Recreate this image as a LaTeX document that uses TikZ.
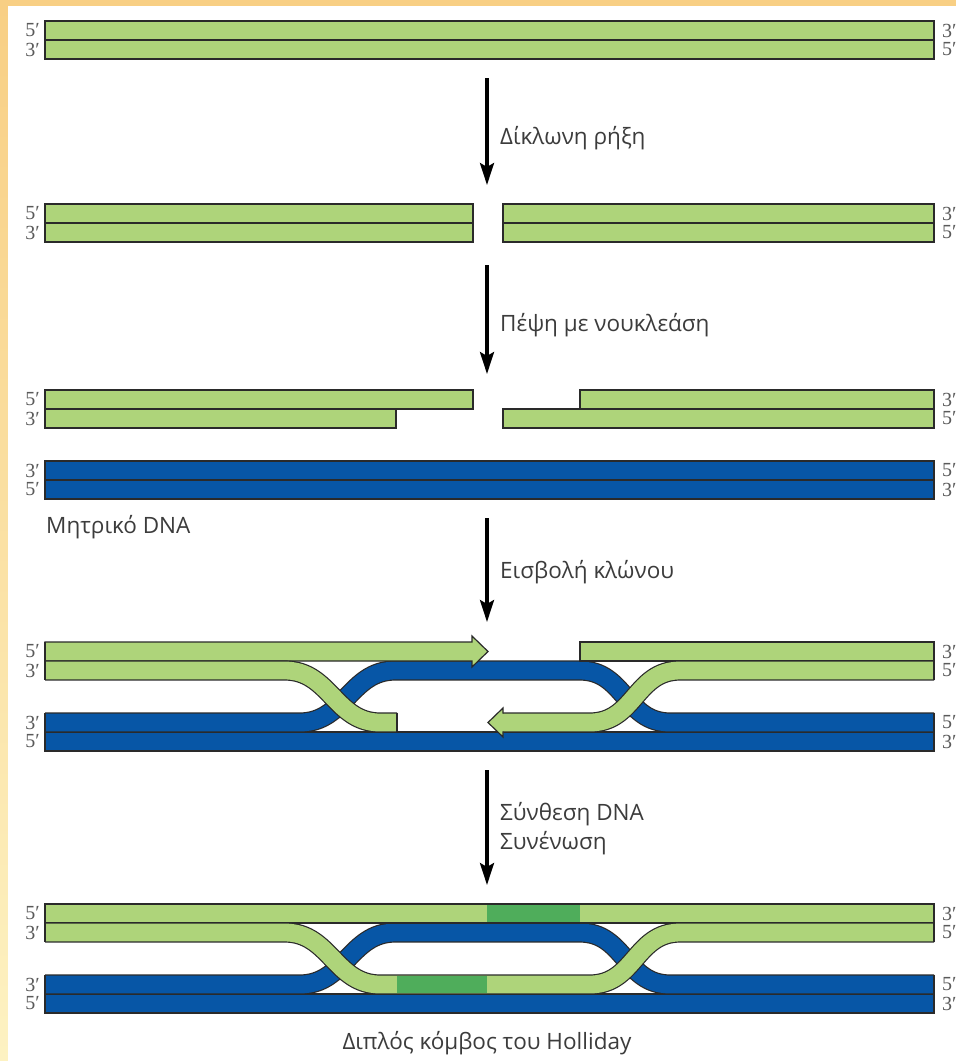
\documentclass[tikz,border=0pt]{standalone}
\usepackage{fontspec}
\setmainfont{Open Sans}
\newfontfamily\primefont{Liberation Serif}
\usetikzlibrary{arrows.meta}

\definecolor{lgreen}{HTML}{AED47A}
\definecolor{dgreen}{HTML}{4FAD5B}
\definecolor{dblue}{HTML}{0756A6}
\definecolor{edgecol}{HTML}{2A2A2A}
\definecolor{txt}{HTML}{3C3C3C}
\definecolor{marktxt}{HTML}{5A5A5A}
\definecolor{bgtop}{HTML}{F8CF84}
\definecolor{bgbot}{HTML}{FDF2C2}

\tikzset{
  strandbox/.style={draw=edgecol, line width=1.2pt},
  curvestrand/.style={draw=edgecol, line width=1.2pt, double=#1, double distance=17.8pt, line cap=butt},
  steparrow/.style={line width=3.4pt, draw=black, -{Stealth[length=22pt,width=14pt,inset=4pt]}},
  labeltext/.style={inner sep=0pt, text=txt, font=\fontsize{22.5}{27}\selectfont},
  steplabel/.style={labeltext, anchor=west},
  polarity/.style={inner sep=0pt, text=marktxt, font=\primefont\fontsize{20}{22}\selectfont},
}

% polarity labels of one duplex: id, centre of upper strand, centre of lower strand,
% left upper, left lower, right upper, right lower
\newcommand\strandmarks[7]{%
  \node[polarity, anchor=east] (#1-lt) at (40,#2) {#4};
  \node[polarity, anchor=east] (#1-lb) at (40,#3) {#5};
  \node[polarity, anchor=west] (#1-rt) at (942,#2) {#6};
  \node[polarity, anchor=west] (#1-rb) at (942,#3) {#7};
}

\begin{document}
\begin{tikzpicture}[x=1pt, y=-1pt]
\useasboundingbox (0,0) rectangle (956,1061);
\fill[top color=bgtop, bottom color=bgbot] (0,0) rectangle (956,1061);
\fill[white] (8,6) rectangle (956,1061);

% ---------- intact duplex ----------
\filldraw[strandbox, fill=lgreen] (45,21) rectangle (934,40);
\filldraw[strandbox, fill=lgreen] (45,40) rectangle (934,59);
\strandmarks{r1}{30.5}{49.5}{5′}{3′}{3′}{5′}

\coordinate (a1s) at (487,78);
\coordinate (a1e) at (487,185);
\draw[steparrow] (a1s) -- (a1e);
\node[steplabel] (t1) at (500,138) {Δίκλωνη ρήξη};

% ---------- double-strand break ----------
\filldraw[strandbox, fill=lgreen] (45,204) rectangle (473,223);
\filldraw[strandbox, fill=lgreen] (45,223) rectangle (473,242);
\filldraw[strandbox, fill=lgreen] (503,204) rectangle (934,223);
\filldraw[strandbox, fill=lgreen] (503,223) rectangle (934,242);
\strandmarks{r2}{213.5}{232.5}{5′}{3′}{3′}{5′}

\coordinate (a2s) at (487,265);
\coordinate (a2e) at (487,374);
\draw[steparrow] (a2s) -- (a2e);
\node[steplabel] (t2) at (500,325) {Πέψη με νουκλεάση};

% ---------- resection ----------
\filldraw[strandbox, fill=lgreen] (45,390) rectangle (473,409);
\filldraw[strandbox, fill=lgreen] (45,409) rectangle (396,428);
\filldraw[strandbox, fill=lgreen] (580,390) rectangle (934,409);
\filldraw[strandbox, fill=lgreen] (503,409) rectangle (934,428);
\strandmarks{r3}{399.5}{418.5}{5′}{3′}{3′}{5′}

\filldraw[strandbox, fill=dblue] (45,461) rectangle (934,480);
\filldraw[strandbox, fill=dblue] (45,480) rectangle (934,499);
\strandmarks{r3b}{470.5}{489.5}{3′}{5′}{5′}{3′}
\node[labeltext, anchor=west] (tmpl) at (46,527) {Μητρικό DNA};

\coordinate (a3s) at (487,518);
\coordinate (a3e) at (487,622);
\draw[steparrow] (a3s) -- (a3e);
\node[steplabel] (t3) at (500,572) {Εισβολή κλώνου};

% ---------- strand invasion ----------
\filldraw[strandbox, fill=dblue] (45,732) rectangle (934,751);
\draw[curvestrand=dblue] (45,722.5) -- (300,722.5)
  .. controls (345,722.5) and (350,670.5) .. (395,670.5) -- (580,670.5)
  .. controls (625,670.5) and (625,722.5) .. (670,722.5) -- (934,722.5);
% invading 3' end, left
\filldraw[strandbox, fill=lgreen] (45,642) -- (472,642) -- (472,636) -- (488,651.5)
  -- (472,667) -- (472,661) -- (45,661) -- cycle;
\filldraw[strandbox, fill=lgreen] (580,642) rectangle (934,661);
\draw[curvestrand=lgreen] (45,670.5) -- (285,670.5)
  .. controls (330,670.5) and (335,722.5) .. (380,722.5) -- (397,722.5);
\draw[strandbox] (397,713) -- (397,732);
% invading 3' end, right
\draw[curvestrand=lgreen] (934,670.5) -- (680,670.5)
  .. controls (635,670.5) and (635,722.5) .. (590,722.5) -- (502,722.5);
\filldraw[strandbox, fill=lgreen] (503,713.6) -- (503,708) -- (488,722.5) -- (503,737) -- (503,731.4);
\draw[strandbox] (45,642) -- (45,680) (45,713) -- (45,751)
  (934,642) -- (934,680) (934,713) -- (934,751);
\strandmarks{r4}{651.5}{670.5}{5′}{3′}{3′}{5′}
\strandmarks{r4b}{722.5}{741.5}{3′}{5′}{5′}{3′}

\coordinate (a4s) at (487,770);
\coordinate (a4e) at (487,885);
\draw[steparrow] (a4s) -- (a4e);
\node[steplabel] (t4) at (500,814) {Σύνθεση DNA};
\node[steplabel] (t5) at (500,843) {Συνένωση};

% ---------- double Holliday junction ----------
\filldraw[strandbox, fill=dblue] (45,994) rectangle (934,1013);
\draw[curvestrand=dblue] (45,984.5) -- (300,984.5)
  .. controls (345,984.5) and (350,932.5) .. (395,932.5) -- (580,932.5)
  .. controls (625,932.5) and (625,984.5) .. (670,984.5) -- (934,984.5);
\filldraw[strandbox, fill=lgreen] (45,904) rectangle (934,923);
\fill[dgreen] (487,904.6) rectangle (580,922.4);
\draw[curvestrand=lgreen] (45,932.5) -- (285,932.5)
  .. controls (330,932.5) and (335,984.5) .. (380,984.5) -- (590,984.5)
  .. controls (635,984.5) and (635,932.5) .. (680,932.5) -- (934,932.5);
\fill[dgreen] (397,975.6) rectangle (487,993.4);
\draw[strandbox] (45,904) -- (45,942) (45,975) -- (45,1013)
  (934,904) -- (934,942) (934,975) -- (934,1013);
\strandmarks{r5}{913.5}{932.5}{5′}{3′}{3′}{5′}
\strandmarks{r5b}{984.5}{1003.5}{3′}{5′}{5′}{3′}
\node[labeltext] (dhj) at (487,1043) {Διπλός κόμβος του Holliday};
\end{tikzpicture}
\end{document}
